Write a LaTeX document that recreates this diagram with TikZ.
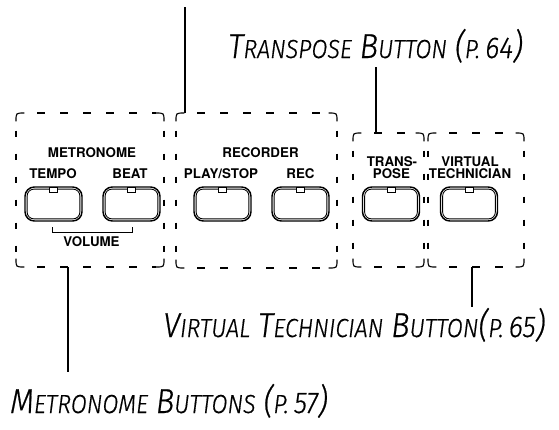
\documentclass[tikz,border=0pt]{standalone}
\usepackage{fontspec}
\setmainfont{TeX Gyre Heros}
\newfontfamily\labfont{Fira Sans Light Italic}[FakeStretch=0.89, FakeBold=0.6, Numbers=Lining]
\newcommand\BigC[1]{{\fontsize{26}{26}\selectfont #1}}
\newcommand\SmC[1]{{\fontsize{19.6}{20}\selectfont #1}}
\newcommand\Dg[1]{{\fontsize{22.5}{22}\selectfont #1}}
\newcommand\Sp{\hspace{6pt}}
\tikzset{
  grpnode/.style={draw=none, inner sep=0pt},
  gcorner/.style={line width=0.85pt, line cap=round},
  gdashh/.style={line width=0.85pt, dash pattern=on 6pt off 11.25pt, dash phase=7.5pt},
  gdashv/.style={line width=0.85pt, dash pattern=on 4.5pt off 12.75pt, dash phase=10pt},
  btnout/.style={draw, line width=1.1pt, rounded corners=7pt, minimum width=42.75pt, minimum height=25.5pt, inner sep=0pt},
  btnin/.style={line width=0.65pt, rounded corners=5pt},
  led/.style={draw, fill=white, line width=0.6pt, minimum width=6pt, minimum height=3.9pt, inner sep=0pt},
  blab/.style={font=\fontsize{10}{12}\selectfont\bfseries, inner sep=0pt, anchor=base},
  ilab/.style={font=\labfont, inner sep=0pt, anchor=base west},
  conn/.style={line width=0.95pt},
}
\newcommand\grpbox[5]{%
  \node[grpnode, minimum width={(#4-#2)*0.75pt}, minimum height={(#5-#3)*0.75pt}] (#1) at ({(#2+#4)/2},{(#3+#5)/2}) {};
  \draw[gcorner] (#2,#3+8) .. controls (#2,#3) .. (#2+8,#3);
  \draw[gcorner] (#4-8,#3) .. controls (#4,#3) .. (#4,#3+8);
  \draw[gcorner] (#2,#5-8) .. controls (#2,#5) .. (#2+8,#5);
  \draw[gcorner] (#4-8,#5) .. controls (#4,#5) .. (#4,#5-8);
  \draw[gdashh] (#2+8,#3) -- (#4-8,#3);
  \draw[gdashh] (#2+8,#5) -- (#4-8,#5);
  \draw[gdashv] (#2,#3+8) -- (#2,#5-8);
  \draw[gdashv] (#4,#3+8) -- (#4,#5-8);
}
\newcommand\btn[2]{%
  \node[btnout] (#1) at (#2,204) {};
  \draw[btnin] ([shift={(2.9,2.9)}]#1.north west) rectangle ([shift={(-2.9,-2.9)}]#1.south east);
  \node[led] (#1led) at ([shift={(0,3.6)}]#1.north) {};
}
\begin{document}
\begin{tikzpicture}[x=0.75pt,y=-0.75pt]
\useasboundingbox (0,0) rectangle (559,429);
% group boxes
\grpbox{met}{16}{113}{164}{267}
\grpbox{rec}{176}{113}{337}{268}
\grpbox{tra}{353}{133}{424}{267}
\grpbox{vt}{428}{133}{524}{267}
% buttons
\btn{tempo}{53.5}
\btn{beat}{131.5}
\btn{play}{222.5}
\btn{recb}{300.5}
\btn{trab}{391}
\btn{vtb}{469}
% button labels
\node[blab] (metname) at (92,157) {METRONOME};
\node[blab] (tempolab) at (53,178.5) {TEMPO};
\node[blab] (beatlab) at (130,178.5) {BEAT};
\node[blab] (recname) at (260.5,157) {RECORDER};
\node[blab] (playlab) at (221,178.5) {PLAY/STOP};
\node[blab] (reclab) at (300.5,178.5) {REC};
\node[blab] (tralab1) at (392,166) {TRANS-};
\node[blab] (tralab2) at (391.5,178.5) {POSE};
\node[blab] (vtlab1) at (470,166) {VIRTUAL};
\node[blab] (vtlab2) at (470,178.5) {TECHNICIAN};
\node[blab] (vollab) at (91.5,246) {VOLUME};
% volume bracket
\draw[line width=0.75pt] (52,227) |- (132,232) -- (132,227);
% callout labels
\node[ilab] (tralab) at (228,58) {\BigC{T}\SmC{RANSPOSE}\Sp\BigC{B}\SmC{UTTON}\Sp\BigC{(}\SmC{P.}\hspace{4pt}\Dg{64}\BigC{)}};
\node[ilab] (vtlab) at (163,337) {\BigC{V}\SmC{IRTUAL}\Sp\BigC{T}\SmC{ECHNICIAN}\Sp\BigC{B}\SmC{UTTON}\BigC{(}\SmC{P.}\hspace{4pt}\Dg{65}\BigC{)}};
\node[ilab] (metlab) at (10,413) {\BigC{M}\SmC{ETRONOME}\Sp\BigC{B}\SmC{UTTONS}\Sp\BigC{(}\SmC{P.}\hspace{4pt}\Dg{57}\BigC{)}};
% connectors
\coordinate (rectop) at (185,7);
\draw[conn] (rectop) -- (rectop |- rec.north);
\coordinate (trax) at (376,67);
\draw[conn] (trax) -- (trax |- tra.north);
\coordinate (vtx) at (472,307);
\draw[conn] (vt.south -| vtx) -- (vtx);
\coordinate (metx) at (68,372);
\draw[conn] (met.south -| metx) -- (metx);
\end{tikzpicture}
\end{document}
